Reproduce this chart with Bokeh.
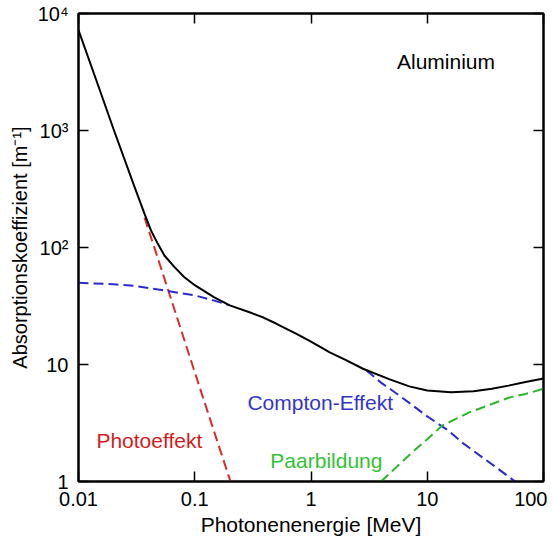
from bokeh.plotting import figure
from bokeh.models import LogAxis, FixedTicker, Label
from bokeh.embed import file_html
from bokeh.resources import INLINE

# --- data (energy in MeV, coefficient in 1/m) ---
total_E = [0.01, 0.015, 0.02, 0.03, 0.037, 0.042, 0.048, 0.055, 0.067, 0.081, 0.1,
           0.146, 0.2, 0.3, 0.39, 0.5, 0.75, 1, 1.45, 2, 2.8, 4.7, 7, 10, 16, 25,
           36, 50, 70, 100]
total_mu = [7200, 2320, 1030, 340, 194, 140, 108, 85, 68, 56, 47.6,
            37.6, 32, 27.8, 25.2, 22.4, 18.3, 15.7, 12.7, 10.9, 9.2, 7.5, 6.5, 6.0, 5.8, 5.9,
            6.2, 6.6, 7.1, 7.6]

photo_E = [0.037, 0.05, 0.07, 0.1, 0.15, 0.203]
photo_mu = [180, 72, 25.7, 8.6, 2.5, 1.0]

compton_low_E = [0.01, 0.02, 0.03, 0.05, 0.1, 0.15, 0.2]
compton_low_mu = [50, 48.5, 47, 43.5, 39, 35, 32]
compton_high_E = [3, 4, 5, 7, 10, 15, 20, 30, 40, 57]
compton_high_mu = [8.9, 7.0, 6.0, 4.7, 3.6, 2.75, 2.15, 1.6, 1.3, 1.0]

pair_E = [4.0, 5.4, 7.4, 10, 13.4, 23, 36, 50, 70, 100]
pair_mu = [1.0, 1.32, 1.77, 2.3, 3.0, 3.9, 4.6, 5.2, 5.6, 6.2]

x_ticks = [0.01, 0.1, 1, 10, 100]
x_tick_labels = ["0.01", "0.1", "1", "10", "100"]
y_ticks = [1, 10, 100, 1000, 10000]
y_tick_labels = ["1", "10", "10\u00b2", "10\u00b3", "10\u2074"]

FONT = "Liberation Sans"

p = figure(x_axis_type="log", y_axis_type="log",
           x_range=(0.01, 100), y_range=(1, 10000),
           frame_width=465, frame_height=468,
           min_border_left=78, min_border_right=4, min_border_top=13, min_border_bottom=10,
           output_backend="svg", toolbar_location=None)
p.background_fill_color = "white"
p.border_fill_color = "white"
p.grid.visible = False
p.outline_line_color = "black"
p.outline_line_width = 2

def style_axis(ax, ticks, labels=None, show_labels=True):
    ax.ticker = FixedTicker(ticks=ticks, minor_ticks=[])
    ax.major_tick_in = 10
    ax.major_tick_out = 0
    ax.major_tick_line_color = "black"
    ax.major_tick_line_width = 1.5
    ax.minor_tick_line_color = None
    ax.axis_line_color = "black"
    ax.axis_line_width = 2
    if show_labels:
        ax.major_label_overrides = {t: l for t, l in zip(ticks, labels)}
        ax.major_label_text_font = FONT
        ax.major_label_text_font_size = "20px"
        ax.major_label_text_color = "black"
        ax.major_label_standoff = 10
        ax.axis_label_text_font = FONT
        ax.axis_label_text_font_size = "20px"
        ax.axis_label_text_font_style = "normal"
        ax.axis_label_text_color = "black"
        ax.axis_label_standoff = 4
    else:
        ax.major_label_overrides = {t: " " for t in ticks}
        ax.major_label_text_font_size = "1px"
        ax.major_label_text_color = "white"
        ax.major_label_standoff = 0

style_axis(p.xaxis[0], x_ticks, x_tick_labels)
style_axis(p.yaxis[0], y_ticks, y_tick_labels)
p.xaxis[0].axis_label = "Photonenenergie [MeV]"
p.xaxis[0].axis_label_text_font_size = "21px"
p.yaxis[0].axis_label = "Absorptionskoeffizient [m\u207b\u00b9]"

top = LogAxis()
style_axis(top, x_ticks, show_labels=False)
p.add_layout(top, "above")
right = LogAxis()
style_axis(right, y_ticks, show_labels=False)
p.add_layout(right, "right")

p.line(photo_E, photo_mu, line_color="#dd2a2a", line_width=2, line_dash="10 5")
p.line(compton_low_E, compton_low_mu, line_color="#2a2ad0", line_width=2, line_dash="10 5")
p.line(compton_high_E, compton_high_mu, line_color="#2a2ad0", line_width=2, line_dash="10 5")
p.line(pair_E, pair_mu, line_color="#2ab82a", line_width=2, line_dash="10 5")
p.line(total_E, total_mu, line_color="black", line_width=2)

def lab(x, y, text, color, align="left"):
    p.add_layout(Label(x=x, y=y, text=text, text_color=color, text_font=FONT,
                       text_font_size="21px", text_align=align, text_baseline="middle"))

lab(14.5, 3890, "Aluminium", "black", align="center")
lab(0.01425, 2.24, "Photoeffekt", "#d41c1c")
lab(0.284, 4.73, "Compton-Effekt", "#3434cc")
lab(0.447, 1.51, "Paarbildung", "#33c233")

open("out.html", "w").write(file_html(p, INLINE))
